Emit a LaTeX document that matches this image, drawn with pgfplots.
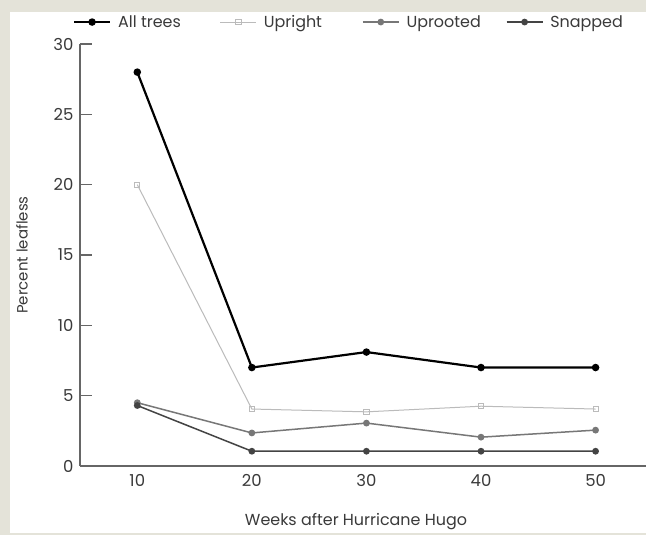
\documentclass[border=0pt]{standalone}
\usepackage{fontspec}
\setmainfont{Poppins}
\usepackage{pgfplots}
\pgfplotsset{compat=1.18}
\definecolor{frame}{HTML}{E4E3D9}
\definecolor{txt}{HTML}{3A3A3A}
\definecolor{ax}{HTML}{666666}
\definecolor{upr}{HTML}{BBBBBB}
\definecolor{uproot}{HTML}{777777}
\definecolor{snap}{HTML}{444444}
\begin{document}
\begin{tikzpicture}
\path[use as bounding box] (0,0) rectangle (646bp,535bp);
\fill[frame] (0,0) rectangle (646bp,535bp);
\fill[white] (10bp,2bp) rectangle (646bp,523bp);
\begin{axis}[
  at={(80bp,69bp)}, anchor=south west,
  scale only axis, width=566bp, height=422bp,
  xmin=5, xmax=54.4, ymin=0, ymax=30,
  axis lines=left, axis line style={-, ax, line width=1.4bp},
  xtick={10,20,30,40,50},
  major x tick style={draw=none},
  extra x ticks={15,25,35,45}, extra x tick labels={},
  extra x tick style={major tick length=10bp, tick style={ax, line width=1.4bp}},
  ytick={0,5,...,30},
  major tick length=12bp,
  tick align=inside,
  y tick style={ax, line width=1.4bp},
  /pgf/number format/assume math mode=true,
  tick label style={font=\fontsize{16.5}{16.5}\selectfont, text=txt},
  xticklabel style={yshift=-5bp},
  yticklabel style={xshift=-3bp},
  xlabel={Weeks after Hurricane Hugo},
  ylabel={Percent leafless},
  x label style={font=\fontsize{16}{16}\selectfont, text=txt, at={(axis description cs:0.4876,-0.1327)}, anchor=center},
  y label style={font=\fontsize{15}{15}\selectfont, text=txt, at={(axis description cs:-0.1025,0.5)}, anchor=center, rotate=0},
  legend columns=4,
  legend style={at={(axis description cs:-0.018,1.052)}, anchor=west, draw=none, fill=none,
    font=\fontsize{16}{16}\selectfont, text=txt,
    /tikz/every odd column/.append style={column sep=5bp},
    /tikz/column 2/.style={column sep=37bp},
    /tikz/column 4/.style={column sep=38bp},
    /tikz/column 6/.style={column sep=23bp}},
  legend cell align=left,
  legend image code/.code={\draw[#1] (0bp,0bp) -- (36bp,0bp); \path[#1] plot[only marks] coordinates {(18bp,0bp)};},
  clip=false,
]
\addplot[black, line width=2.2bp, mark=*, mark size=2.6bp, mark options={solid}] coordinates {(10,28) (20,7) (30,8.1) (40,7) (50,7)};
\addlegendentry{All trees}
\addplot[upr, line width=1bp, mark=square, mark size=2.6bp, mark options={solid, line width=0.8bp}] coordinates {(10,20) (20,4.05) (30,3.85) (40,4.25) (50,4.05)};
\addlegendentry{Upright}
\addplot[uproot, line width=1.5bp, mark=*, mark size=2.6bp] coordinates {(10,4.5) (20,2.35) (30,3.05) (40,2.05) (50,2.55)};
\addlegendentry{Uprooted}
\addplot[snap, line width=1.5bp, mark=*, mark size=2.6bp] coordinates {(10,4.3) (20,1.05) (30,1.05) (40,1.05) (50,1.05)};
\addlegendentry{Snapped}
\end{axis}
\end{tikzpicture}
\end{document}
